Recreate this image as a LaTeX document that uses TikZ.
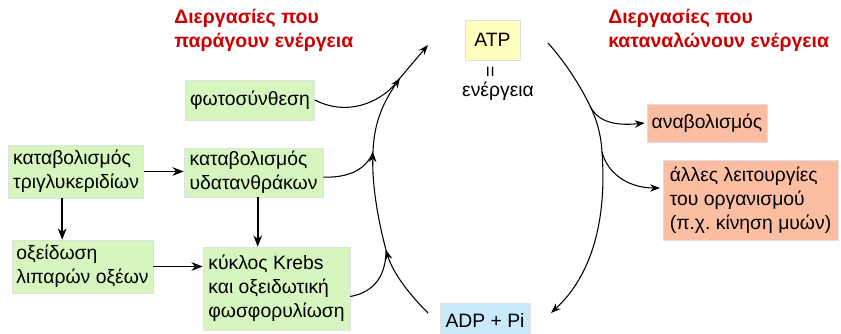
\documentclass[tikz,border=0pt]{standalone}
\usepackage{fontspec}
\setmainfont{Liberation Sans}
\usetikzlibrary{arrows.meta}
\definecolor{boxgreen}{HTML}{D7F5BF}
\definecolor{boxorange}{HTML}{FBBEA2}
\definecolor{boxyellow}{HTML}{FFFFBE}
\definecolor{boxblue}{HTML}{C9E9FB}
\definecolor{titlered}{HTML}{CC0000}
\frenchspacing
\begin{document}
\begin{tikzpicture}[x=0.75pt,y=-0.75pt,
  every node/.style={font=\fontsize{14.5}{18}\selectfont, inner sep=0pt},
  box/.style={draw=black!12, line width=0.4pt, inner xsep=3.5pt, inner ysep=0pt, anchor=center, align=left},
  gbox/.style={box, fill=boxgreen},
  obox/.style={box, fill=boxorange},
  heading/.style={text=titlered, font=\bfseries\fontsize{14.6}{18}\selectfont, align=left, anchor=north west},
  link/.style={line width=1.2pt, -{Stealth[length=8.5pt,width=6.5pt]}},
  flow/.style={line width=0.8pt},
  tipped/.style={flow, -{Stealth[length=7.5pt,width=5.5pt]}}
]
\useasboundingbox (0,0) rectangle (841,333);

% headings
\node[heading] (prodtitle) at (174,9) {Διεργασίες που\\παράγουν ενέργεια};
\node[heading] (constitle) at (608,9) {Διεργασίες που\\καταναλώνουν ενέργεια};

% energy carriers
\node[box, fill=boxyellow, minimum width=41.25pt, minimum height=30pt] (atp) at (492.5,40) {ATP};
\node[rotate=90] (equals) at (492,72) {=};
\node (energy) at (498,91) {ενέργεια};
\node[box, fill=boxblue, minimum width=67.5pt, minimum height=25.5pt] (adp) at (485,320) {ADP + Pi};

% energy-producing processes
\node[gbox, minimum width=94.5pt, minimum height=30pt] (phot) at (250,100) {φωτοσύνθεση};
\node[gbox, minimum width=100.5pt, minimum height=39.75pt] (trig) at (76,171.5) {καταβολισμός\\τριγλυκεριδίων};
\node[gbox, minimum width=104.25pt, minimum height=36.75pt] (ydat) at (253.5,172.5) {καταβολισμός\\υδατανθράκων};
\node[gbox, minimum width=105.75pt, minimum height=39.75pt] (oxei) at (82.5,266.5) {οξείδωση\\λιπαρών οξέων};
\node[gbox, minimum width=110.25pt, minimum height=62.25pt] (krebs) at (276.5,288.5) {κύκλος Krebs\\και οξειδωτική\\φωσφορυλίωση};

% energy-consuming processes
\node[obox, minimum width=90pt, minimum height=28.5pt] (anab) at (707,123) {αναβολισμός};
\node[obox, minimum width=131.25pt, minimum height=60pt] (alles) at (750.5,200) {άλλες λειτουργίες\\του οργανισμού\\(π.χ. κίνηση μυών)};

% links between the catabolic pathways
\draw[link] (trig.east) -- (trig.east -| ydat.west);
\draw[link] ([xshift=40.5pt]trig.south west) -- ([xshift=40.5pt]trig.south west |- oxei.north);
\draw[link] ([xshift=55.5pt]ydat.south west) -- ([xshift=55.5pt]ydat.south west |- krebs.north);
\draw[link] (oxei.east) -- (oxei.east -| krebs.west);

% cycle: ADP + Pi up to ATP
\coordinate (lstart) at (428,313);
\coordinate (jkrebs) at (386,250);
\coordinate (jydat) at (373,152);
\coordinate (jphot) at (400,78);
\coordinate (lend) at (428,45);
\draw[tipped] (lstart) .. controls (405,290) and (392,270) .. (jkrebs);
\draw[tipped] (jkrebs) .. controls (378,220) and (372,185) .. (jydat);
\draw[tipped] (jydat) .. controls (374,120) and (385,100) .. (jphot);
\draw[tipped] (jphot) -- (lend);
\draw[flow] (phot.east) .. controls (350,118) and (385,100) .. (jphot);
\draw[flow] ([yshift=-3.5pt]ydat.east) .. controls (355,178) and (368,165) .. (jydat);
\draw[flow] ([yshift=-6pt]krebs.east) .. controls (375,292) and (386,275) .. (jkrebs);

% cycle: ATP down to ADP + Pi
\coordinate (rstart) at (548,43);
\coordinate (janab) at (590,106);
\coordinate (jalles) at (602,152);
\coordinate (rend) at (551,313);
\draw[flow] (rstart) .. controls (565,62) and (580,85) .. (janab);
\draw[flow] (janab) .. controls (597,120) and (601,135) .. (jalles);
\draw[tipped] (jalles) .. controls (607,220) and (592,275) .. (rend);
\draw[tipped] (janab) .. controls (598,122) and (615,126) .. ([xshift=-1.5pt]anab.west);
\draw[tipped] (jalles) .. controls (608,175) and (630,188) .. ([xshift=-2pt,yshift=9pt]alles.west);
\end{tikzpicture}
\end{document}
